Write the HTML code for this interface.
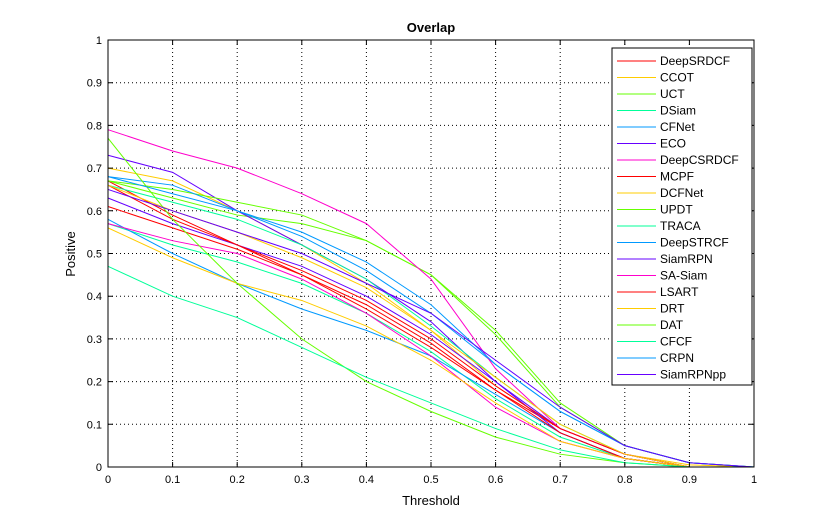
<!DOCTYPE html>
<html><head><meta charset="utf-8"><style>
body{margin:0;background:#fff;font-family:"Liberation Sans",Arial,sans-serif}
svg text{font-family:"Liberation Sans",Arial,sans-serif}
</style></head><body>
<svg id="chart" width="832" height="525" viewBox="0 0 832 525" xmlns="http://www.w3.org/2000/svg">
<rect width="832" height="525" fill="#fff"/>
<g id="grid"></g>
<g id="series"></g>
<rect x="108" y="40" width="646" height="427" fill="none" stroke="#000" stroke-width="1"/>
<g id="ticks"></g>
<text x="431" y="32" text-anchor="middle" font-size="13" font-weight="bold">Overlap</text>
<text x="431" y="505" text-anchor="middle" font-size="13">Threshold</text>
<text x="75" y="254" text-anchor="middle" font-size="13" transform="rotate(-90 75 254)">Positive</text>
<g id="legend"></g>
</svg>
<script>
const names=["DeepSRDCF","CCOT","UCT","DSiam","CFNet","ECO","DeepCSRDCF","MCPF","DCFNet","UPDT","TRACA","DeepSTRCF","SiamRPN","SA-Siam","LSART","DRT","DAT","CFCF","CRPN","SiamRPNpp"];
const thresholds=[0,0.1,0.2,0.3,0.4,0.5,0.6,0.7,0.8,0.9,1];
const s1=[.67,.59,.52,.45,.37,.28,.18,.09,.03,0,0];
const s2=[.70,.67,.60,.52,.43,.32,.19,.09,.03,.005,0];
const s3=[.67,.63,.59,.57,.53,.45,.31,.14,.05,.01,0];
const s4=[.57,.52,.48,.43,.36,.27,.16,.07,.02,0,0];
const s5=[.58,.50,.43,.37,.32,.26,.17,.08,.02,0,0];
const s6=[.73,.69,.60,.52,.44,.34,.20,.08,.02,0,0];
const s7=[.57,.53,.50,.44,.36,.26,.14,.06,.02,0,0];
const s8=[.61,.56,.51,.45,.38,.29,.18,.08,.02,0,0];
const s9=[.56,.49,.43,.39,.33,.25,.15,.06,.02,0,0];
const s10=[.67,.65,.62,.59,.53,.45,.32,.15,.05,.01,0];
const s11=[.66,.62,.58,.52,.44,.33,.21,.10,.03,0,0];
const s12=[.68,.66,.60,.54,.46,.36,.24,.13,.05,.01,0];
const s13=[.63,.57,.52,.47,.40,.31,.20,.09,.03,0,0];
const s14=[.79,.74,.70,.64,.57,.44,.23,.09,.03,0,0];
const s15=[.66,.58,.52,.46,.39,.30,.19,.09,.03,0,0];
const s16=[.66,.60,.55,.49,.42,.32,.21,.10,.03,0,0];
const s17=[.77,.58,.43,.30,.20,.13,.07,.03,.01,0,0];
const s18=[.47,.40,.35,.28,.21,.15,.09,.04,.01,0,0];
const s19=[.68,.64,.60,.55,.48,.38,.24,.13,.05,.01,0];
const s20=[.65,.60,.55,.50,.43,.36,.25,.14,.05,.01,0];
const seriesValues=[s1,s2,s3,s4,s5,s6,s7,s8,s9,s10,s11,s12,s13,s14,s15,s16,s17,s18,s19,s20];
const tickLabels=["0","0.1","0.2","0.3","0.4","0.5","0.6","0.7","0.8","0.9","1"];
const colors=["#ff0000","#ffcc00","#66ff00","#00ff99","#0099ff","#6600ff","#ff00cc"];
const NS="http://www.w3.org/2000/svg";
const X0=108,X1=754,Y0=467,Y1=40;
const xs=v=>X0+v*(X1-X0), ys=v=>Y0-v*(Y0-Y1);
function mk(tag,attrs,parent){const e=document.createElementNS(NS,tag);for(const k in attrs)e.setAttribute(k,attrs[k]);parent.appendChild(e);return e;}
const grid=document.getElementById('grid'),ticks=document.getElementById('ticks');
tickLabels.forEach((t,i)=>{
  const v=i/10,x=xs(v),y=ys(v);
  if(i>0&&i<10){
    const gx=mk('line',{x1:x,x2:x,y1:Y1,y2:Y0,stroke:'#000','stroke-dasharray':'1 3','stroke-width':1},grid);
    
    
    const gy=mk('line',{x1:X0,x2:X1,y1:y,y2:y,stroke:'#000','stroke-dasharray':'1 3','stroke-width':1},grid);
    
    
  }
  mk('path',{d:`M${x},${Y0}v-5M${x},${Y1}v5M${X0},${y}h5M${X1},${y}h-5`,stroke:'#000'},ticks);
  const tx=mk('text',{x:x,y:Y0+16,'text-anchor':'middle','font-size':11},ticks);tx.textContent=t;
  
  
  const ty=mk('text',{x:X0-6,y:y+4,'text-anchor':'end','font-size':11},ticks);ty.textContent=t;
  
  
});
const sg=document.getElementById('series');
seriesValues.forEach((vals,i)=>{
  const pts=vals.map((v,j)=>xs(thresholds[j])+','+ys(v)).join(' ');
  const p=mk('polyline',{points:pts,fill:'none',stroke:colors[i%7],'stroke-width':1},sg);
  
  
});
const lg=document.getElementById('legend');
const box=mk('rect',{x:612,y:48,width:140,height:337,fill:'#fff',stroke:'#000'},lg);


names.forEach((n,i)=>{
  const y=61+i*16.5;
  const g=mk('g',{},lg);
  
  
  mk('line',{x1:617,x2:656,y1:y,y2:y,stroke:colors[i%7]},g);
  const t=mk('text',{x:660,y:y+4,'font-size':12},g);t.textContent=n;
});
</script>
</body></html>
